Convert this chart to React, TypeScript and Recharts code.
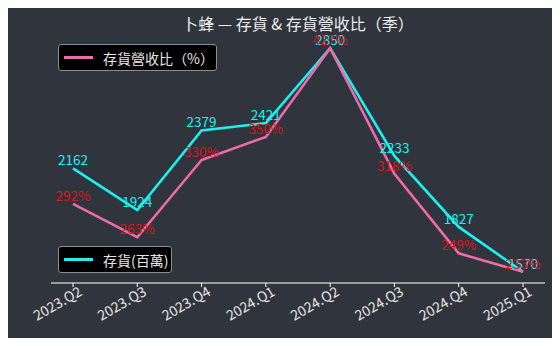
import { LineChart, Line, XAxis, YAxis, LabelList } from 'recharts';

const quarters = ['2023.Q2', '2023.Q3', '2023.Q4', '2024.Q1', '2024.Q2', '2024.Q3', '2024.Q4', '2025.Q1'];
const inventory = [2162, 1924, 2379, 2421, 2850, 2233, 1827, 1570];
const inventoryRatio = [292, 263, 330, 350, 427, 318, 249, 233];

const BG = '#30353d';
const CYAN = '#1ef0f0';
const PINK = '#ef6aa8';
const RED = '#d8141e';
const FONT = '"Noto Sans CJK TC", "Noto Sans", sans-serif';

const data = quarters.map((q, i) => ({ q, inv: inventory[i], ratio: inventoryRatio[i] }));

// matplotlib-style 5% margins
function padDomain(values: number[]): [number, number] {
  const lo = Math.min(...values);
  const hi = Math.max(...values);
  const m = (hi - lo) * 0.05;
  return [lo - m, hi + m];
}

function XTick(props: any) {
  const { x, y, payload } = props;
  return (
    <g transform={`translate(${x},${y})`}>
      <line x1={0} y1={0} x2={0} y2={4} stroke="#ffffff" strokeWidth={1} />
      <text
        x={0}
        y={0}
        dx={3}
        dy={15}
        textAnchor="end"
        fill="#e6e6e6"
        fontSize={14}
        fontFamily={FONT}
        transform="rotate(-30)"
      >
        {payload.value}
      </text>
    </g>
  );
}

function LegendBox({ left, top, width, color, text }: { left: number; top: number; width: number; color: string; text: string }) {
  return (
    <div
      style={{
        position: 'absolute',
        left,
        top,
        width,
        height: 27,
        boxSizing: 'border-box',
        background: '#000000',
        border: '1px solid #8a8d92',
        borderRadius: 3,
        display: 'flex',
        alignItems: 'center',
        fontFamily: FONT,
        fontSize: 14,
        color: '#e6e6e6',
      }}
    >
      <div style={{ width: 29, height: 3, background: color, marginLeft: 5, marginRight: 10 }} />
      <span>{text}</span>
    </div>
  );
}

export default function App() {
  return (
    <div style={{ position: 'relative', width: 560, height: 346, margin: -8, background: BG }}>
      <div
        style={{
          position: 'absolute',
          left: 51,
          width: 494,
          top: 15,
          lineHeight: '17px',
          textAlign: 'center',
          fontFamily: FONT,
          fontSize: 16,
          color: '#eeeeee',
        }}
      >
        卜蜂 — 存貨 &amp; 存貨營收比（季）
      </div>
      <LineChart
        width={560}
        height={346}
        data={data}
        margin={{ top: 37, right: 15, bottom: 0, left: 51 }}
        style={{ position: 'absolute', left: 0, top: 0 }}
      >
        <XAxis
          dataKey="q"
          height={63}
          padding={{ left: 22, right: 22 }}
          axisLine={{ stroke: '#ffffff', strokeWidth: 1.2 }}
          tickLine={false}
          tickSize={0}
          tickMargin={0}
          tick={<XTick />}
          interval={0}
        />
        <YAxis yAxisId="inv" hide domain={padDomain(inventory)} />
        <YAxis yAxisId="ratio" hide domain={padDomain(inventoryRatio)} />
        <Line
          yAxisId="inv"
          dataKey="inv"
          stroke={CYAN}
          strokeWidth={2.6}
          dot={false}
          isAnimationActive={false}
        >
          <LabelList dataKey="inv" position="top" offset={3} fill={CYAN} fontSize={13.5} fontFamily={FONT} />
        </Line>
        <Line
          yAxisId="ratio"
          dataKey="ratio"
          stroke={PINK}
          strokeWidth={2.6}
          dot={false}
          isAnimationActive={false}
        >
          <LabelList
            dataKey="ratio"
            position="top"
            offset={3}
            fill={RED}
            fontSize={13.5}
            fontFamily={FONT}
            formatter={(v: any) => `${v}%`}
          />
        </Line>
      </LineChart>
      <LegendBox left={58} top={44} width={159} color={PINK} text="存貨營收比（%）" />
      <LegendBox left={58} top={246} width={114} color={CYAN} text="存貨(百萬)" />
    </div>
  );
}
